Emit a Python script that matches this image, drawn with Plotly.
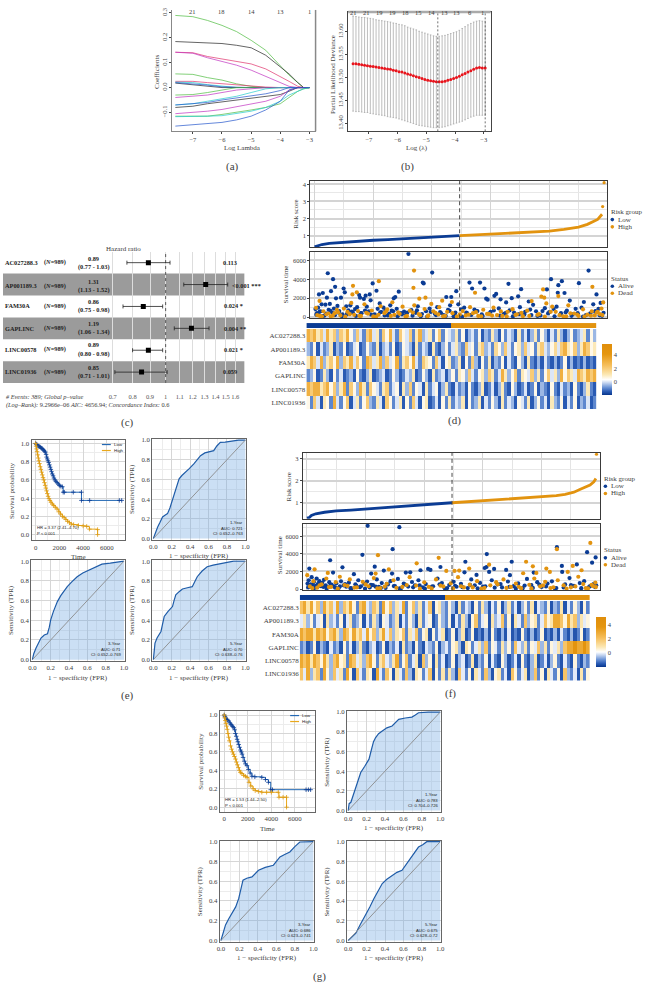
import plotly.graph_objects as go

W, H = 645, 984
SERIF = "Liberation Serif"
SANS = "Liberation Sans"
NAVY = "#0b3c94"
ORANGE = "#e2930f"
TXT = "#404040"

# (a) lasso coefficient paths
lam = [-7.6, -7, -6.5, -6, -5.5, -5, -4.5, -4, -3.7, -3.4, -3.2, -3]
coef_colors = ["#4dbb3f", "#222222", "#e0306a", "#c030c0", "#4dbb3f", "#e0306a", "#22cccc", "#222222", "#2255cc",
               "#4dbb3f", "#c030c0", "#22cccc", "#2255cc", "#222222", "#c030c0", "#4dbb3f", "#22cccc", "#2255cc"]
coef_paths = [
    [.29, .285, .27, .25, .225, .19, .15, .09, .05, .02, 0, 0],
    [.185, .183, .18, .177, .17, .16, .13, .085, .055, .02, 0, 0],
    [.142, .14, .125, .115, .105, .095, .075, .045, .025, .005, 0, 0],
    [.142, .138, .12, .105, .09, .07, .045, .02, .005, 0, 0, 0],
    [.055, .053, .04, .03, .015, .005, 0, 0, 0, 0, 0, 0],
    [.025, .025, .02, .015, .01, .005, .002, 0, 0, 0, 0, 0],
    [.022, .02, .012, .005, 0, 0, 0, 0, 0, 0, 0, 0],
    [.018, .012, .005, 0, 0, 0, 0, 0, 0, 0, 0, 0],
    [.02, .015, .01, .003, 0, 0, 0, 0, 0, 0, 0, 0],
    [-.03, -.028, -.02, -.01, 0, 0, 0, 0, 0, 0, 0, 0],
    [-.04, -.035, -.03, -.02, -.01, -.005, 0, 0, 0, 0, 0, 0],
    [-.07, -.065, -.055, -.045, -.035, -.02, -.005, 0, 0, 0, 0, 0],
    [-.07, -.065, -.06, -.05, -.042, -.035, -.025, -.012, 0, 0, 0, 0],
    [-.08, -.075, -.065, -.058, -.05, -.042, -.035, -.028, -.015, 0, 0, 0],
    [-.105, -.1, -.095, -.088, -.078, -.068, -.055, -.035, -.01, 0, 0, 0],
    [-.115, -.115, -.115, -.108, -.1, -.09, -.08, -.065, -.04, -.015, -.005, 0],
    [-.117, -.117, -.115, -.113, -.105, -.095, -.08, -.055, -.03, -.015, -.005, 0],
    [-.155, -.15, -.145, -.14, -.13, -.115, -.09, -.055, -.01, 0, 0, 0],
]
top_a_vals = [-7, -6, -5, -4, -3]
top_a_text = ["21", "18", "14", "13", "1"]

# (b) cross validation
cv_x = [-7.55, -7.45, -7.35, -7.25, -7.15, -7.05, -6.95, -6.85, -6.75, -6.65, -6.55, -6.45, -6.35, -6.25, -6.15, -6.05,
        -5.95, -5.85, -5.75, -5.65, -5.55, -5.45, -5.35, -5.25, -5.15, -5.05, -4.95, -4.85, -4.75, -4.65, -4.55, -4.45,
        -4.35, -4.25, -4.15, -4.05, -3.95, -3.85, -3.75, -3.65, -3.55, -3.45, -3.35, -3.25, -3.15, -3.05, -2.95]
cv_mean = [13.530, 13.530, 13.529, 13.528, 13.527, 13.526, 13.525, 13.524, 13.523, 13.522, 13.521, 13.520, 13.519,
           13.518, 13.516, 13.515, 13.513, 13.512, 13.510, 13.508, 13.506, 13.504, 13.502, 13.500, 13.498, 13.496,
           13.494, 13.493, 13.492, 13.491, 13.491, 13.491, 13.492, 13.494, 13.496, 13.498, 13.500, 13.503, 13.506,
           13.509, 13.512, 13.515, 13.518, 13.521, 13.522, 13.521, 13.521]
cv_up = [13.634, 13.633, 13.632, 13.631, 13.631, 13.630, 13.629, 13.628, 13.626, 13.625, 13.624, 13.623, 13.622,
         13.621, 13.619, 13.618, 13.616, 13.615, 13.613, 13.610, 13.608, 13.606, 13.604, 13.601, 13.599, 13.597,
         13.595, 13.593, 13.591, 13.590, 13.590, 13.591, 13.592, 13.594, 13.596, 13.598, 13.600, 13.603, 13.607,
         13.611, 13.615, 13.618, 13.621, 13.623, 13.624, 13.623, 13.623]
cv_lo = [13.427, 13.426, 13.426, 13.425, 13.424, 13.424, 13.422, 13.421, 13.420, 13.419, 13.418, 13.417, 13.415,
         13.414, 13.413, 13.412, 13.410, 13.408, 13.406, 13.404, 13.402, 13.400, 13.398, 13.396, 13.395, 13.394,
         13.393, 13.392, 13.391, 13.391, 13.391, 13.392, 13.393, 13.395, 13.397, 13.399, 13.401, 13.403, 13.405,
         13.408, 13.411, 13.414, 13.416, 13.418, 13.418, 13.418, 13.418]
top_b_vals = [-7.53, -7.08, -6.63, -6.17, -5.73, -5.28, -4.83, -4.38, -3.94, -3.49, -3.05]
top_b_text = ["21", "21", "19", "19", "18", "15", "14", "13", "13", "6", "1"]

# (c) forest plot
genes = ["AC027288.3", "AP001189.3", "FAM30A", "GAPLINC", "LINC00578", "LINC01936"]
hr = [0.89, 1.31, 0.86, 1.19, 0.89, 0.85]
hr_lo = [0.77, 1.13, 0.75, 1.06, 0.80, 0.71]
hr_hi = [1.03, 1.52, 0.98, 1.34, 0.98, 1.01]
hr_p = ["0.113", "&lt;0.001 ***", "0.024 *", "0.004 **", "0.021 *", "0.059"]
forest_ticks = [0.7, 0.8, 0.9, 1, 1.1, 1.2, 1.3, 1.4, 1.5, 1.6]

# (d) risk score, train set
d_low_rank = [0, 10, 25, 50, 100, 150, 200, 250, 300, 350, 400, 450, 494]
d_low_score = [.34, .40, .48, .55, .62, .68, .73, .77, .82, .87, .92, .96, 1.0]
d_high_rank = [495, 550, 600, 650, 700, 750, 800, 850, 900, 930, 950, 965, 975, 980]
d_high_score = [1.0, 1.05, 1.09, 1.13, 1.18, 1.21, 1.26, 1.36, 1.5, 1.66, 1.8, 1.95, 2.15, 2.25]
d_out_rank = [982, 987]
d_out_score = [2.7, 4.1]

d_alive_rank = [320, 45, 63, 401, 369, 372, 198, 211, 287, 70, 99, 103, 15, 28, 56, 42, 73, 90, 152, 155, 174, 188, 168,
                191, 270, 275, 449, 466, 483, 528, 537, 564, 579, 661, 704, 806, 843, 831, 792, 829, 852, 901, 934, 961,
                585, 590, 613, 619, 634, 653, 672, 694, 730, 745, 870, 918, 950, 975,
                3, 8, 12, 20, 24, 33, 37, 48, 52, 60, 66, 78, 84, 95, 108, 115, 122, 130, 138, 145, 160, 178, 185, 205,
                215, 222, 228, 235, 242, 250, 258, 263, 280, 295, 305, 312, 330, 345, 352, 362, 380, 392, 410, 418, 428,
                440, 455, 462, 474, 480, 490, 500, 510, 520, 545, 555, 570, 600, 628, 645, 665, 680, 700, 715, 735, 755,
                770, 785, 800, 815, 825, 840, 860, 880, 890, 910, 925, 940, 958, 968, 980,
                6, 17, 27, 40, 54, 69, 82, 93, 110, 127, 141, 158, 172, 193, 208, 224, 239, 254, 268, 283, 298, 316, 334,
                349, 366, 384, 396, 414, 431, 447, 460, 478, 503, 517, 534, 552, 573, 594, 611, 632, 652, 676, 697, 718,
                739, 760, 777, 796, 818, 838, 856, 876, 897, 915, 938, 956, 972, 985]
d_alive_time = [6700, 4640, 4010, 4710, 3660, 3560, 3560, 2790, 2690, 3200, 3030, 2620, 2400, 2550, 2750, 2060, 1990, 2060,
                2340, 2060, 2270, 2400, 1920, 1780, 1990, 2130, 2130, 2130, 2750, 3660, 3030, 3660, 3030, 3520, 2960, 4010,
                3800, 3380, 2930, 2580, 2550, 3590, 4920, 2400,
                1950, 1850, 2250, 2450, 1880, 1550, 2000, 2200, 1650, 1300, 1750, 1600, 1350, 1500,
                850, 420, 1000, 620, 1350, 150, 1320, 780, 1400, 480, 900, 1180, 640, 300, 1150, 720, 1250, 520, 850, 1050,
                420, 1100, 620, 280, 880, 1450, 540, 1000, 720, 180, 1250, 680, 880, 420, 580, 240, 750, 450, 1150, 100,
                620, 900, 350, 1050, 520, 220, 780, 1250, 90, 480, 1350, 820, 1000, 420, 800, 640, 300, 560, 920, 350, 720,
                480, 1050, 280, 800, 620, 180, 950, 520, 860, 1100, 420, 680, 300, 880, 1000, 220, 400, 640, 880, 140,
                240, 560, 110, 380, 650, 200, 460, 90, 310, 590, 130, 420, 700, 260, 60, 510, 170, 380, 620, 90, 290, 480,
                150, 720, 330, 60, 540, 210, 430, 120, 660, 340, 50, 480, 230, 600, 110, 380, 700, 160, 440, 70, 310, 560,
                210, 120, 640, 390, 80, 270, 510, 140, 420, 60, 300, 580, 190, 460]
d_dead_rank = [219, 131, 339, 337, 129, 144, 947, 779, 773, 783, 831, 547, 17, 357, 378, 435,
               5, 18, 30, 40, 55, 68, 76, 88, 100, 112, 125, 135, 148, 158, 170, 182, 195, 210, 225, 238, 248, 265, 272,
               285, 300, 315, 325, 340, 355, 375, 388, 398, 412, 425, 438, 452, 468, 495, 505, 515, 530, 540, 558, 575,
               595, 610, 622, 640, 658, 675, 690, 710, 725, 740, 760, 790, 810, 822, 848, 865, 885, 900, 915, 930, 945,
               955, 965, 972, 978, 984,
               9, 25, 47, 62, 80, 105, 120, 153, 176, 200, 218, 244, 260, 290, 310, 335, 360, 385, 405, 422, 445, 470, 485,
               525, 550, 568, 588, 605, 635, 655, 685, 705, 732, 765, 785, 805, 835, 858, 872, 895, 920, 942, 962, 981]
d_dead_time = [3800, 3310, 4920, 3100, 2400, 2620, 3210, 2930, 2160, 2060, 2230, 2580, 1710, 1950, 2060, 1740,
               980, 120, 620, 300, 80, 420, 760, 180, 900, 560, 1500, 240, 640, 120, 1350, 360, 700, 60, 1150, 420, 820,
               1560, 240, 500, 1100, 130, 680, 1250, 320, 860, 180, 1400, 450, 1050, 90, 560, 1600, 280, 640, 180, 1050,
               420, 120, 780, 320, 1000, 220, 120, 560, 840, 300, 100, 680, 1700, 240, 1450, 1100, 560, 80, 1250, 380, 130,
               820, 260, 620, 180, 560, 320, 900, 1550,
               210, 90, 380, 150, 520, 60, 310, 140, 450, 70, 250, 600, 120, 350, 60, 480, 200, 90, 620, 280, 140, 420, 60,
               260, 520, 90, 340, 160, 600, 70, 230, 440, 130, 310, 60, 560, 200, 90, 400, 270, 60, 150, 480, 220]

hm_d = [
    [3, 2, 3, 1, 2, 0, 3, 1, 2, -.5, 2, 1, 3, .5, -.5, 2, 0, -1, 2, 3, 0, 1, -1, 2, .5, 3, 0, -1, 2, .5, 0, 2, -1, 1, 3, -.5, 0, 1, -1, .5, 2, -1, .5, 0,
     -.5, 1, -1, .5, -1.5, -.5, 0, -1, .5, -1.5, -.5, -1, 1, -.5, -1.5, .5, -1, 0, -.5, -1.5, 1, -1, 0, -1.5, -.5, 1, -1, .5, -.5, -1.5, 0, -1, 1, -.5, -1.5, -.5, .5, -1, -.5, 0, 1, -1, .5, -.5],
    [-.5, -1, .5, -1.5, 0, -1, -.5, 1, -1.5, -.5, -1, .5, -1.5, -1, 0, .5, -1.5, -1, .5, -.5, -1, 1, -1.5, -.5, 0, -1, .5, -1.5, -1, .5, 0, -.5, -1.5, 1, -1, 0, -.5, -1.5, 1, -1, -1.5, -.5, .5, -1,
     0, 1, -.5, -1, 2, 0, .5, -1, 1, 2, -.5, 0, -1, 1.5, .5, -.5, 2, 0, -1, .5, 1, -.5, 2, 0, .5, -1, 1, 2, 0, -.5, .5, 1.5, 0, 2, 3, 1, .5, 2, -.5, 1, 3, 2, .5, 1],
    [1, 3, 2, 0, 3, -.5, 1, 2, .5, 3, -.5, 2, 1, 3, 0, 2, .5, -1, 3, 2, 0, 1, 3, -.5, 2, 0, .5, 3, -1, 1, 2, .5, 3, 0, -1, 2, 1, .5, -1, 2, 0, -1.5, .5, 1,
     -1, -.5, 1, -1.5, .5, -1, 2, -.5, -1.5, .5, -1, 1, -1.5, -.5, -1, .5, -1.5, 0, -1, -1.5, .5, -.5, -1.5, 1, -1, -1.5, -.5, -1.5, 0, -1, -1.5, -.5, -1.5, -1, .5, -1.5, -.5, -1.5, -1, -1.5, -.5, -1.5, -1, -1.5],
    [-1, -.5, .5, -1.5, -1, 1, -.5, -1.5, .5, -1, 0, -1.5, -1, -.5, -1.5, .5, -1, -1.5, -.5, 1, -1.5, -1, -.5, 0, -1.5, -1, .5, -.5, -1.5, -1, 0, -.5, 1, -1.5, -1, .5, -.5, -1.5, 1, -1, -.5, 0, -1.5, -.5,
     .5, -1, 1, .5, -.5, 2, 0, -1, .5, 1, -.5, 2, 1, -1, 0, 3, 1, -.5, .5, 2, -1, 1, .5, 0, 2, -.5, 1, -1, .5, 2, 0, 1, -.5, 3, .5, 2, 1, 0, 3, 2, 1, 3, 2, 3],
    [3, 2, 3, 3, 1, 2, 3, .5, 2, -.5, 1, 3, -1, 2, .5, -.5, 3, 1, -1, 2, .5, 0, -1, 1, 2, -1, 0, .5, -1.5, 1, -.5, 2, -1, .5, 0, -1.5, 1, -1, 0, .5, -1.5, -.5, 1, -1,
     -1.5, 0, -1, -.5, -1.5, .5, -1, -1.5, -.5, 1, -1.5, -1, 0, -1.5, -.5, 1, -1, -1.5, .5, -.5, -1.5, -1, 0, -1.5, -1, .5, -1.5, -.5, -1, -1.5, .5, -1, -1.5, 0, -1, -.5, -1.5, .5, -1, -1.5, -.5, 1, -1, -1.5],
    [.5, -1, 2, 0, -1.5, 1, .5, -1, 3, 0, -1, .5, 2, -1.5, 0, 1, -1, .5, 2, -.5, -1, 1, 0, -1.5, 2, .5, -1, 0, 1, -1.5, .5, -1, 2, 0, -1.5, .5, 1, -1.5, -1, 0, -1.5, .5, -1, 1,
     -1, 0, -.5, 1, -1.5, .5, -1, -.5, 1, -1.5, 0, -1, .5, -.5, -1.5, 1, -1, 0, -.5, -1.5, .5, 0, -1, 1, -1.5, -.5, .5, -1, 0, -1.5, 1, -.5, -1, .5, -1.5, 0, -1, .5, -1.5, -.5, -1, 0, -1.5, -1],
]

# (e) survival and ROC, train set
e_low_t = [0, 60, 120, 180, 250, 320, 400, 470, 540, 610, 680, 750, 820, 880, 930, 980, 1040, 1100, 1160, 1220, 1280, 1340,
           1400, 1470, 1540, 1620, 1700, 1800, 1900, 2000, 2120, 2250, 2320, 2420, 3170, 3860, 3860, 4550, 7050, 7250]
e_low_s = [1, .99, .985, .975, .97, .965, .96, .95, .945, .935, .925, .915, .905, .88, .85, .83, .81, .79, .765, .74, .715,
           .69, .665, .645, .62, .6, .585, .57, .555, .54, .53, .525, .465, .465, .465, .465, .375, .375, .375, .375]
e_high_t = [0, 40, 80, 120, 170, 220, 270, 320, 380, 440, 500, 560, 620, 680, 740, 800, 860, 920, 980, 1050, 1120, 1200, 1290,
            1400, 1520, 1650, 1800, 1950, 2100, 2250, 2400, 2550, 2700, 2850, 3000, 3200, 3600, 4000, 4300, 4530, 5220, 5220]
e_high_s = [1, .97, .94, .91, .875, .84, .81, .78, .745, .715, .685, .655, .625, .6, .57, .54, .51, .48, .45, .42, .395, .375,
            .355, .335, .32, .3, .28, .25, .225, .2, .185, .165, .145, .13, .115, .11, .1, .095, .09, .06, .055, 0]
e1_fpr = [0, .02, .047, .07, .1, .13, .154, .18, .2, .226, .25, .28, .31, .35, .39, .44, .48, .513, .56, .62, .656, .69, .728, .78, .836, .926, 1]
e1_tpr = [0, .06, .118, .16, .219, .24, .253, .31, .37, .438, .53, .606, .64, .673, .71, .758, .8, .842, .87, .885, .892, .94, .976, .98, .987, 1, 1]
e3_fpr = [0, .015, .04, .07, .094, .13, .165, .185, .2, .23, .273, .31, .345, .381, .43, .489, .55, .615, .69, .759, .85, .93, 1]
e3_tpr = [0, .06, .118, .17, .219, .25, .263, .33, .404, .49, .589, .65, .7, .741, .79, .842, .88, .909, .945, .97, .98, .99, 1]
e5_fpr = [0, .018, .04, .083, .1, .118, .16, .208, .225, .244, .28, .316, .37, .423, .45, .477, .53, .585, .65, .728, .8, .872, 1]
e5_tpr = [0, .168, .22, .286, .36, .438, .49, .539, .6, .657, .69, .717, .73, .741, .79, .842, .9, .943, .96, .976, .99, 1, 1]

# (f) risk score, test set
f_low_rank = [0, 8, 15, 30, 60, 100, 150, 200, 250, 300, 350, 400, 450, 494]
f_low_score = [.3, .33, .42, .5, .57, .63, .67, .72, .76, .82, .87, .91, .96, 1.0]
f_high_rank = [495, 550, 600, 650, 700, 750, 800, 850, 880, 910, 930, 950, 965, 978, 985]
f_high_score = [1.0, 1.05, 1.08, 1.12, 1.16, 1.2, 1.26, 1.32, 1.38, 1.48, 1.6, 1.72, 1.8, 1.95, 2.1]
f_out_rank = [987]
f_out_score = [3.2]

f_alive_rank = [207, 315, 292, 189, 79, 8, 89, 121, 231, 262, 613, 540, 698, 852, 955, 972, 984, 920, 869, 870, 612, 606,
                638, 679, 692, 621, 455, 413, 421, 387, 352, 337, 290, 160, 219, 537, 578, 773,
                2, 6, 11, 16, 20, 24, 28, 33, 37, 42, 47, 52, 58, 64, 70, 76, 84, 92, 100, 108, 116, 125, 134, 143, 152, 165,
                175, 184, 195, 205, 214, 225, 238, 245, 255, 268, 276, 285, 300, 310, 320, 330, 345, 358, 368, 380, 395, 405,
                430, 445, 460, 470, 485, 500, 510, 525, 548, 560, 572, 590, 600, 630, 650, 665, 685, 705, 720, 735, 750, 765,
                785, 800, 820, 835, 850, 880, 895, 910, 930, 945, 960, 978, 986,
                4, 13, 22, 31, 44, 56, 67, 80, 96, 112, 130, 148, 168, 180, 198, 218, 234, 252, 272, 296, 316, 335, 362, 384,
                402, 426, 452, 478, 505, 530, 556, 582, 608, 640, 660, 690, 712, 742, 770, 792, 815, 845, 875, 900, 935, 965, 982]
f_alive_time = [7200, 7050, 4540, 3900, 3280, 2330, 1880, 2480, 2550, 2100, 3980, 3110, 3110, 4770, 4200, 3000, 3600, 2810,
                2630, 1950, 2510, 2400, 2290, 2180, 1580, 1950, 2510, 2290, 2180, 2140, 1910, 1880, 1760, 1690, 1760, 1910,
                1610, 1880,
                620, 1000, 300, 1350, 480, 820, 150, 1200, 560, 900, 320, 700, 1050, 420, 200, 780, 500, 300, 650, 120, 880,
                420, 260, 720, 80, 540, 1000, 320, 600, 850, 180, 440, 1100, 260, 680, 130, 520, 900, 340, 1150, 60, 620, 280,
                800, 420, 1000, 200, 560, 320, 1200, 680, 90, 460, 820, 260, 600, 120, 1100, 420, 700, 280, 1000, 540, 180,
                860, 340, 640, 100, 1150, 460, 780, 240, 620, 880, 120, 520, 1250, 360, 680, 900, 200, 580, 420,
                180, 520, 90, 370, 610, 240, 70, 430, 160, 300, 560, 110, 390, 210, 60, 480, 270, 130, 600, 340, 80, 510, 190,
                420, 60, 280, 540, 120, 360, 210, 470, 90, 310, 150, 560, 240, 70, 400, 130, 500, 290, 60, 180, 440, 100, 330, 220]
f_dead_rank = [242, 852, 966, 449, 374, 747, 770, 816, 828, 906, 936, 889, 621, 553, 475, 503, 519, 71, 26, 1, 279, 234, 737, 782,
               10, 22, 35, 50, 66, 82, 98, 112, 128, 146, 170, 190, 210, 228, 250, 272, 295, 325, 350, 372, 400, 425, 440, 465,
               490, 515, 535, 555, 580, 605, 625, 645, 670, 695, 712, 730, 758, 775, 795, 812, 830, 855, 875, 900, 925, 942, 958, 975, 983,
               18, 43, 75, 105, 138, 162, 200, 240, 265, 305, 340, 385, 415, 455, 498, 525, 565, 595, 650, 680, 722, 765, 805, 840, 885, 915, 950, 970, 985]
f_dead_time = [3860, 4540, 5250, 3560, 2930, 3110, 2590, 2330, 1950, 2630, 2140, 1950, 2780, 2330, 2060, 2060, 2100, 1840, 2250,
               1580, 2250, 1760, 1800, 1840,
               300, 900, 150, 520, 1200, 240, 780, 1400, 450, 1100, 180, 820, 320, 1250, 120, 600, 1000, 240, 1350, 400, 760, 80,
               1100, 300, 640, 1350, 180, 500, 900, 130, 420, 780, 1100, 240, 620, 100, 480, 1200, 300, 820, 120, 1000, 420, 200,
               1400, 560, 80, 340, 740,
               110, 430, 220, 60, 360, 170, 520, 80, 280, 140, 460, 60, 240, 380, 90, 320, 180, 60, 540, 130, 260, 70, 410, 190, 60, 300, 120, 480, 220]

hm_f = [
    [2, 3, 1, 3, .5, 2, -.5, 3, 1, 2, 0, 3, -.5, 2, 1, 3, .5, -1, 2, 3, 0, -.5, 2, 1, -1, 3, .5, 2, -.5, 1, 0, 3, -1, .5, 2, -.5, 1, -1, 0, 2, -1.5, .5, 1, -.5,
     -1, .5, -.5, -1.5, 1, -1, 0, -.5, -1.5, .5, -1, 1, -.5, -1.5, 0, -1, .5, -1.5, -.5, 1, -1, 0, -1.5, -.5, .5, -1, 1, -1.5, 0, -.5, -1, .5, -1.5, -.5, -1, 1, -1.5, 0, -1, .5, -.5, -1.5, .5, -1],
    [0, 1, -.5, .5, -1, 0, .5, -1.5, 1, -.5, 0, -1, .5, -1.5, 0, 1, -1, -.5, .5, -1.5, 0, -1, 1, -.5, -1.5, .5, 0, -1, -.5, 1, -1.5, 0, -1, .5, -.5, -1.5, 1, -1, 0, .5, -1.5, -1, .5, -.5,
     -1, .5, -1.5, 0, -1, 1, -.5, -1.5, .5, 2, -1, 0, .5, -1.5, 1, -.5, 0, 2, -1, .5, -1.5, 1, 0, -1, 2, -.5, .5, 1, -1, 0, 2, .5, 1, 3, 3, 2, .5, 3, 1, 2, -.5, 1, 0, .5],
    [3, 2, 3, 3, 1, 3, 2, 3, .5, 2, 3, 1, -.5, 3, 2, .5, 3, 1, 2, 0, 3, .5, 2, -.5, 1, 3, 0, 2, -.5, 1, .5, 2, -1, 1, 0, 2, -1, .5, 1, -1.5, .5, -1, 0, 1,
     -1.5, -1, .5, -1.5, -.5, 1, -1.5, -1, .5, -1.5, -1, -1.5, -.5, -1.5, .5, -1, -1.5, -.5, -1.5, 0, -1.5, -1, -1.5, .5, -1, -1.5, -.5, -1.5, -1, .5, -1.5, -1, -1.5, -.5, -1.5, 0, -1, -1.5, -.5, -1.5, -1, .5, -1.5, -1],
    [-1, -.5, -1.5, -1, .5, -1.5, -.5, -1, -1.5, 0, -1, -.5, -1.5, .5, -1, 0, -1.5, -.5, 1, -1, -1.5, -.5, 0, -1.5, -1, .5, -1.5, -.5, -1, 0, -1.5, 1, -1, -.5, -1.5, .5, -1, -1.5, 0, -.5, -1, .5, -1.5, -.5,
     0, -1, .5, 1, -.5, -1.5, 1, .5, -1, 0, 1, -.5, 2, -1, .5, 0, -1, 1, -.5, .5, -1, 2, 0, -.5, 1, -1, .5, 0, 2, -.5, 1, -1, .5, 0, 1, -.5, 2, 3, 3, 4, 3, 3, 4, 3],
    [3, 2, 3, 1, 3, 2, .5, 3, 1, -.5, 2, 3, .5, 1, -1, 3, 2, 0, 1, -.5, 2, 3, .5, -1, 1, 2, 0, -.5, 1, 3, -1, .5, 2, -1, 0, 1, -1.5, 2, -.5, .5, -1.5, 1, -1, 0,
     -1.5, -1, .5, -1.5, -.5, 0, -1.5, -1, 1, -1.5, -.5, -1, .5, -1.5, 0, -1, -1.5, .5, -.5, -1.5, -1, 0, -1.5, .5, -1, -1.5, -.5, 1, -1.5, -1, 0, -1.5, -.5, .5, -1, -1.5, 0, -1, -1.5, .5, -1, -1.5, -.5, -1],
    [2, 0, 3, -.5, 1, 2, -1, 3, .5, -.5, 2, 0, 1, -1, 3, .5, -1.5, 2, 0, -1, 1, .5, -1.5, 3, 0, -1, 2, .5, -1.5, 1, 0, -1, 2, -.5, -1.5, 1, .5, -1, 0, 2, -1.5, .5, -1, 1,
     -1, 1, -.5, -1.5, 2, 0, -1, .5, -1.5, 1, 0, -1, 2, -.5, -1.5, .5, 1, -1, 0, -1.5, 2, .5, -1, 0, 1, -1.5, -.5, 2, -1, .5, -1.5, 1, 0, -1, .5, -1.5, 2, -.5, -1, 0, -1.5, 1, -1, .5],
]

# (g) survival and ROC, test set
g_low_t = [0, 60, 120, 200, 280, 392, 480, 560, 640, 720, 812, 880, 950, 1020, 1092, 1160, 1230, 1300, 1380, 1450, 1513, 1600,
           1700, 1800, 1933, 2050, 2200, 2353, 2600, 3193, 3500, 3754, 3950, 4100, 6950, 7150, 7340]
g_low_s = [1, .985, .97, .955, .945, .935, .915, .9, .89, .875, .863, .84, .8, .77, .737, .71, .68, .65, .62, .6, .576, .54,
           .5, .47, .45, .41, .37, .335, .33, .324, .3, .27, .19, .19, .19, .19, .19]
g_high_t = [0, 40, 90, 140, 200, 252, 310, 370, 430, 532, 620, 700, 780, 860, 952, 1030, 1110, 1200, 1290, 1373, 1500, 1650, 1800,
            1933, 2100, 2250, 2450, 2633, 2900, 3193, 3600, 4000, 4594, 4650, 5000, 5294, 5294]
g_high_s = [1, .97, .94, .91, .88, .845, .8, .76, .72, .665, .63, .6, .575, .55, .522, .49, .46, .43, .4, .378, .365, .345, .335,
            .324, .27, .23, .2, .18, .17, .162, .162, .162, .162, .108, .108, .108, 0]
g1_fpr = [0, .01, .029, .055, .083, .11, .136, .18, .226, .25, .275, .298, .33, .37, .42, .477, .51, .549, .62, .692, .73, .764, .87, 1]
g1_tpr = [0, .07, .084, .16, .236, .33, .387, .45, .522, .61, .7, .741, .78, .808, .84, .859, .89, .926, .94, .949, .97, .993, 1, 1]
g3_fpr = [0, .02, .05, .085, .121, .16, .193, .215, .239, .28, .336, .407, .48, .568, .6, .639, .69, .746, .8, .854, 1]
g3_tpr = [0, .06, .158, .22, .275, .34, .426, .52, .611, .63, .644, .711, .74, .762, .8, .846, .87, .896, .95, .997, 1]
g5_fpr = [0, .03, .083, .13, .19, .235, .28, .325, .37, .42, .477, .53, .585, .63, .674, .72, .764, .81, .854, 1]
g5_tpr = [0, .03, .074, .16, .258, .34, .426, .5, .577, .62, .661, .69, .711, .77, .829, .89, .946, .97, 1, 1]

fig = go.Figure()
notes = []
shapes = []


def xdom(l, r):
    return [l / W, r / W]


def ydom(t, b):
    return [1 - b / H, 1 - t / H]


def label(x, y, text, size=7, anchor="center", angle=0, color=TXT, family=SERIF):
    notes.append(dict(x=x / W, y=1 - y / H, xref="paper", yref="paper", text=text, showarrow=False, xanchor=anchor,
                      yanchor="middle", textangle=angle, font=dict(size=size, color=color, family=family), borderpad=0))


def key_dot(x, y, color):
    shapes.append(dict(type="circle", xref="paper", yref="paper", x0=(x - 1.8) / W, x1=(x + 1.8) / W, y0=1 - (y + 1.8) / H,
                       y1=1 - (y - 1.8) / H, fillcolor=color, line_width=0))


def axes(n, left, right, top, bottom, xr, yr, xextra=None, yextra=None):
    sfx = "" if n == 1 else str(n)
    xa = dict(domain=xdom(left, right), range=xr, anchor="y" + sfx, zeroline=False, showgrid=False,
              tickfont=dict(size=6.5, family=SERIF, color=TXT))
    ya = dict(domain=ydom(top, bottom), range=yr, anchor="x" + sfx, zeroline=False, showgrid=False,
              tickfont=dict(size=6.5, family=SERIF, color=TXT))
    xa.update(xextra or {})
    ya.update(yextra or {})
    fig.update_layout({"xaxis" + sfx: xa, "yaxis" + sfx: ya})
    return "x" + sfx, "y" + sfx


# --- (a)
ax, ay = axes(1, 171, 316, 7, 129, [-7.71, -2.79], [-.176, .312],
              dict(tickvals=[-7, -6, -5, -4, -3], ticktext=["−7", "−6", "−5", "−4", "−3"], ticks="outside", ticklen=2,
                   showline=True, linecolor="#888", linewidth=1),
              dict(tickvals=[-.1, 0, .1, .2, .3], ticktext=["−0.1", "0.0", "0.1", "0.2", "0.3"], ticks="outside", ticklen=2,
                   tickangle=-90, showline=True, linecolor="#888", linewidth=1))
for path, col in zip(coef_paths, coef_colors):
    fig.add_trace(go.Scatter(x=lam, y=path, mode="lines", line=dict(color=col, width=.7), xaxis=ax, yaxis=ay))
shapes.append(dict(type="line", xref="x domain", yref="y domain", x0=1, x1=1, y0=0, y1=1, line=dict(color="#888", width=1.5)))
for v, t in zip(top_a_vals, top_a_text):
    notes.append(dict(x=v, xref=ax, y=1 - 3 / H, yref="paper", text=t, showarrow=False, font=dict(size=6.5, family=SERIF, color=TXT)))
label(155, 69, "Coefficients", 7, angle=-90)
label(242, 146, "Log Lambda", 7)
label(232, 164, "(a)", 11)

# --- (b)
bx, by = axes(2, 349, 493, 9, 129, [-7.72, -2.76], [13.383, 13.643],
              dict(tickvals=[-7, -6, -5, -4, -3], ticktext=["−7", "−6", "−5", "−4", "−3"], ticks="outside", ticklen=2,
                   showline=True, mirror=True, linecolor="#444", linewidth=1),
              dict(tickvals=[13.40, 13.45, 13.50, 13.55, 13.60], tickformat=".2f", ticks="outside", ticklen=2, tickangle=-90,
                   showline=True, mirror=True, linecolor="#444", linewidth=1))
err_up = [u - m for u, m in zip(cv_up, cv_mean)]
err_lo = [m - l for m, l in zip(cv_mean, cv_lo)]
fig.add_trace(go.Scatter(x=cv_x, y=cv_mean, mode="markers", marker=dict(color="#e8141c", size=3), xaxis=bx, yaxis=by,
                         error_y=dict(type="data", symmetric=False, array=err_up, arrayminus=err_lo, color="#a0a0a0",
                                      thickness=.7, width=.8)))
for lx in [-4.6, -2.95]:
    fig.add_trace(go.Scatter(x=[lx, lx], y=[13.383, 13.643], mode="lines", line=dict(color="#333", width=.7, dash="2px,2px"),
                             xaxis=bx, yaxis=by))
shapes.append(dict(type="line", xref="x2 domain", yref="y2 domain", x0=0, x1=1, y0=1, y1=1, line=dict(color="#aaa", width=2.5)))
for v, t in zip(top_b_vals, top_b_text):
    notes.append(dict(x=v, xref=bx, y=1 - 4 / H, yref="paper", text=t, showarrow=False, font=dict(size=6.5, family=SERIF, color=TXT)))
label(333, 72, "Partial Likelihood Deviance", 7, angle=-90)
label(419, 146, "Log (λ)", 7)
label(409, 164, "(b)", 11)

# --- (c)
cx, cy = axes(3, 0, 244, 250, 382, [-.4766, .2306], [5.5, -.5],
              dict(type="log", tickvals=forest_ticks, ticktext=[str(v) for v in forest_ticks], showgrid=True, tickangle=0,
                   gridcolor="#dddddd", gridwidth=1, ticks="outside", ticklen=7, tickcolor="rgba(0,0,0,0)",
                   tickfont=dict(size=6.5, family=SERIF, color="#555")),
              dict(visible=False))
for row in [1, 3, 5]:
    shapes.append(dict(type="rect", xref="x3 domain", yref="y3", x0=0, x1=1, y0=row - .5, y1=row + .5,
                       fillcolor="#9b9b9b", line_width=0, layer="below"))
fig.add_trace(go.Scatter(x=[1, 1], y=[5.5, -.5], mode="lines", line=dict(color="#333", width=.8, dash="dot"), xaxis=cx, yaxis=cy))
rows = list(range(len(genes)))
fig.add_trace(go.Scatter(x=hr, y=rows, mode="markers", marker=dict(symbol="square", color="black", size=5), xaxis=cx, yaxis=cy,
                         error_x=dict(type="data", symmetric=False, array=[h - m for h, m in zip(hr_hi, hr)],
                                      arrayminus=[m - l for m, l in zip(hr, hr_lo)], color="#222", thickness=.8, width=2)))
row_y = [260.7, 284, 304.5, 326.7, 348, 370.7]
p_left = [221, 230, 222, 222, 222, 221]
for g, h, l, u, p, y, px in zip(genes, hr, hr_lo, hr_hi, hr_p, row_y, p_left):
    label(1.5, y, "<b>" + g + "</b>", 6.3, "left", color="#222")
    label(53, y, "<b>(<i>N</i>=989)</b>", 6.3, color="#222")
    label(91, y - 4.3, "<b>%.2f</b>" % h, 6.3, color="#222")
    label(91, y + 4.3, "<b>(%.2f - %.2f)</b>" % (l, u), 6.3, color="#222")
    label(px, y, "<b>" + p + "</b>", 6.3, "left", color="#222")
label(122, 247, "Hazard ratio", 7)
label(2, 396, "<i># Events: 389; Global p–value</i>", 6.3, "left")
label(2, 404, "<i>(Log–Rank):</i> 9.2966e–06 <i>AIC:</i> 4656.94; <i>Concordance Index:</i> 0.6", 6.3, "left")
label(126, 422, "(c)", 11)


def grid_x():
    return dict(showgrid=True, gridcolor="#d4d4d4", gridwidth=1.4, tick0=0, dtick=200, showticklabels=False, showline=True,
                mirror=True, linecolor="#3a3a3a", linewidth=1.2,
                minor=dict(showgrid=True, dtick=100, tick0=0, gridcolor="#e4e4e4", gridwidth=1))


def grid_y(vals, text, minor):
    return dict(showgrid=True, gridcolor="#d4d4d4", gridwidth=1.6, tickvals=vals, ticktext=text, ticks="outside", ticklen=2,
                showline=True, mirror=True, linecolor="#3a3a3a", linewidth=1.2,
                minor=dict(showgrid=True, tickvals=minor, gridcolor="#e8e8e8", gridwidth=1))


STOPS = [[0, "#07358c"], [.07, "#2b5cb5"], [.15, "#6c94d6"], [.24, "#c6d6f0"], [.3, "#ffffff"], [.4, "#fce8b4"],
         [.58, "#f6bf5c"], [.8, "#e5960f"], [1, "#e08e0b"]]


def risk_panel(n, frame, x0_px, top1, bot1, top2, bot2, y1r, y2r, y1t, low, high, out, alive, dead):
    left, right = frame
    px = (608.3 - 315) / 989
    xr = [(left - x0_px) / px, (right - x0_px) / px]
    x1, y1 = axes(n, left, right, top1, bot1, xr, y1r, grid_x(), grid_y(y1t, [str(v) for v in y1t], [v + .5 for v in y1t]))
    x2, y2 = axes(n + 1, left, right, top2, bot2, xr, y2r, grid_x(),
                  grid_y([0, 2000, 4000, 6000], ["0", "2000", "4000", "6000"], [1000, 3000, 5000, 7000]))
    fig.add_trace(go.Scatter(x=low[0], y=low[1], mode="lines", line=dict(color=NAVY, width=2.8), xaxis=x1, yaxis=y1))
    fig.add_trace(go.Scatter(x=high[0], y=high[1], mode="lines", line=dict(color=ORANGE, width=2.8), xaxis=x1, yaxis=y1))
    fig.add_trace(go.Scatter(x=out[0], y=out[1], mode="markers", marker=dict(color=ORANGE, size=3.2), xaxis=x1, yaxis=y1))
    fig.add_trace(go.Scatter(x=alive[0], y=alive[1], mode="markers", marker=dict(color=NAVY, size=4.2), xaxis=x2, yaxis=y2))
    fig.add_trace(go.Scatter(x=dead[0], y=dead[1], mode="markers", marker=dict(color=ORANGE, size=4.2), xaxis=x2, yaxis=y2))
    for xa, ya, yrr in [(x1, y1, y1r), (x2, y2, y2r)]:
        fig.add_trace(go.Scatter(x=[494.5, 494.5], y=yrr, mode="lines", line=dict(color="#333", width=.9, dash="4px,3px"), xaxis=xa, yaxis=ya))


def heat_panel(n, left, right, bar_top, bar_bot, heat_top, heat_bot, z, zmin, zmax, cb_left, cb_top, cb_len):
    x1, y1 = axes(n, left, right, bar_top, bar_bot, [-.5, 1.5], [-.5, .5], dict(visible=False), dict(visible=False))
    fig.add_trace(go.Heatmap(z=[[0, 1]], colorscale=[[0, NAVY], [1, ORANGE]], showscale=False, xaxis=x1, yaxis=y1))
    x2, y2 = axes(n + 1, left, right, heat_top, heat_bot, [-.5, len(z[0]) - .5], [5.5, -.5], dict(visible=False),
                  dict(tickvals=list(range(6)), ticktext=genes, ticks="", tickfont=dict(size=7, family=SERIF, color=TXT)))
    fig.add_trace(go.Heatmap(z=z, zmin=zmin, zmax=zmax, colorscale=STOPS, xaxis=x2, yaxis=y2,
                             colorbar=dict(x=cb_left / W, xanchor="left", y=1 - cb_top / H, yanchor="top", lenmode="pixels",
                                           len=cb_len, thickness=10, xpad=0, ypad=0, outlinewidth=0, tickvals=[0, 2, 4],
                                           ticks="", tickfont=dict(size=6.5, family=SERIF, color=TXT))))


def status_keys(x, y_group, y_status):
    label(x, y_group, "Risk group", 7, "left")
    key_dot(x + 2, y_group + 7.7, NAVY)
    label(x + 7, y_group + 7.7, "Low", 7, "left")
    key_dot(x + 2, y_group + 15, ORANGE)
    label(x + 7, y_group + 15, "High", 7, "left")
    label(x, y_status, "Status", 7, "left")
    key_dot(x + 2, y_status + 7.7, NAVY)
    label(x + 7, y_status + 7.7, "Alive", 7, "left")
    key_dot(x + 2, y_status + 14.7, ORANGE)
    label(x + 7, y_status + 14.7, "Dead", 7, "left")


# --- (d)
risk_panel(4, (310.7, 611), 315, 179, 245.5, 250.5, 317, [.32, 4.19], [-136, 6867], [1, 2, 3, 4],
           (d_low_rank, d_low_score), (d_high_rank, d_high_score), (d_out_rank, d_out_score),
           (d_alive_rank, d_alive_time), (d_dead_rank, d_dead_time))
heat_panel(6, 306.7, 600, 321.7, 326.7, 327.7, 408.3, hm_d, -2, 5.6, 606, 343, 51)
label(296, 212, "Risk score", 7, angle=-90)
label(286, 283, "Survival time", 7, angle=-90)
status_keys(614, 210, 277)
label(456, 420, "(d)", 11)

# --- (f)
risk_panel(8, (303.3, 604), 307.3, 452, 518.5, 523.5, 590, [.27, 3.27], [-110, 7430], [1, 2, 3],
           (f_low_rank, f_low_score), (f_high_rank, f_high_score), (f_out_rank, f_out_score),
           (f_alive_rank, f_alive_time), (f_dead_rank, f_dead_time))
heat_panel(10, 300, 593.3, 595, 600, 601, 681, hm_f, -1.9, 5.1, 599.3, 616.7, 50)
label(289, 486, "Risk score", 7, angle=-90)
label(280, 555, "Survival time", 7, angle=-90)
status_keys(607, 478, 550)
label(452, 694, "(f)", 11)


def frame_axis(**kw):
    d = dict(showgrid=True, gridcolor="#d6d6d6", gridwidth=1.2, showline=True, mirror=True, linecolor="#666", linewidth=1.2,
             ticks="", tickfont=dict(size=6.8, family=SERIF, color=TXT))
    d.update(kw)
    return d


RATE_T = [0, .2, .4, .6, .8, 1]
RATE_M = [.1, .3, .5, .7, .9]


def roc_panel(n, left, right, top, bottom, fpr, tpr, lines):
    # pixel box is the 0..1 square plus a small pad
    w, h = right - left, bottom - top
    pad = 1.0
    xa = frame_axis(tickvals=RATE_T, tickformat=".1f", minor=dict(showgrid=True, tickvals=RATE_M, gridcolor="#ececec", gridwidth=.8))
    ya = frame_axis(tickvals=RATE_T, tickformat=".1f", minor=dict(showgrid=True, tickvals=RATE_M, gridcolor="#ececec", gridwidth=.8))
    x, y = axes(n, left, right, top, bottom, [-pad / (w - 2 * pad), 1 + pad / (w - 2 * pad)],
                [-pad / (h - 2 * pad), 1 + pad / (h - 2 * pad)], xa, ya)
    fig.add_trace(go.Scatter(x=fpr, y=tpr, mode="lines", line=dict(color="#1f5ca8", width=1.2), fill="tozeroy",
                             fillcolor="rgba(110,165,225,.36)", xaxis=x, yaxis=y))
    fig.add_trace(go.Scatter(x=[0, 1], y=[0, 1], mode="lines", line=dict(color="#8a8a8a", width=.9), xaxis=x, yaxis=y))
    for i, t in enumerate(lines):
        label(right - 2.5, bottom - 17 + i * 5.6, t, 4.2, "right", color="#222", family=SANS)
    label((left + right) / 2, bottom + 17, "1 − specificity (FPR)", 7)
    label(left - 20, (top + bottom) / 2, "Sensitivity (TPR)", 7, angle=-90)


def km_panel(n, left, right, top, bottom, x_rng, y_rng, low, high, hr_txt):
    xa = frame_axis(tickvals=[0, 2000, 4000, 6000], minor=dict(showgrid=True, tickvals=[1000, 3000, 5000, 7000], gridcolor="#ececec", gridwidth=.8))
    ya = frame_axis(tickvals=RATE_T, tickformat=".1f", minor=dict(showgrid=True, tickvals=RATE_M, gridcolor="#ececec", gridwidth=.8))
    x, y = axes(n, left, right, top, bottom, x_rng, y_rng, xa, ya)
    for (t, s), line_col, mark_col in [(low, "#2368b4", NAVY), (high, "#e9a81c", "#dd9a10")]:
        fig.add_trace(go.Scatter(x=t, y=s, mode="lines+markers", line=dict(color=line_col, width=1, shape="hv"),
                                 marker=dict(symbol="cross-thin", size=3.2, line=dict(color=mark_col, width=.8)), xaxis=x, yaxis=y))
    label(left + 4, bottom - 13, hr_txt, 4.2, "left", color="#222", family=SANS)
    label(left + 4, bottom - 7, "P &lt; 0.001", 4.2, "left", color="#222", family=SANS)
    label(left + 82, top + 4.5, "Low", 4.4, "left", color="#222", family=SANS)
    label(left + 82, top + 10.5, "High", 4.4, "left", color="#222", family=SANS)
    for dy, col in [(4.5, "#2368b4"), (10.5, "#e9a81c")]:
        shapes.append(dict(type="line", xref="paper", yref="paper", x0=(left + 71) / W, x1=(left + 80) / W,
                           y0=1 - (top + dy) / H, y1=1 - (top + dy) / H, line=dict(color=col, width=1.2)))
    label((left + right) / 2, bottom + 17, "Time", 7)
    label(left - 20, (top + bottom) / 2, "Survival probability", 7, angle=-90)


# --- (e)
km_panel(12, 29, 123.7, 439.3, 540, [-333, 7558], [-.062, 1.037], (e_low_t, e_low_s), (e_high_t, e_high_s), "HR = 3.37 (2.41–4.70)")
roc_panel(13, 151, 246, 438.3, 539.3, e1_fpr, e1_tpr, ["1-Year", "AUC: 0.721", "CI: 0.652–0.763"])
roc_panel(14, 28.7, 123.3, 560, 661, e3_fpr, e3_tpr, ["3-Year", "AUC: 0.71", "CI: 0.652–0.769"])
roc_panel(15, 151, 246, 560, 661, e5_fpr, e5_tpr, ["5-Year", "AUC: 0.70", "CI: 0.638–0.76"])
label(126, 696, "(e)", 11)

# --- (g)
km_panel(16, 219.3, 315, 711.7, 813.3, [-366, 7675], [-.054, 1.043], (g_low_t, g_low_s), (g_high_t, g_high_s), "HR = 1.53 (1.44–2.50)")
roc_panel(17, 348, 443, 711.7, 812.7, g1_fpr, g1_tpr, ["1-Year", "AUC: 0.783", "CI: 0.704–0.726"])
roc_panel(18, 219.3, 314.7, 842, 943.3, g3_fpr, g3_tpr, ["3-Year", "AUC: 0.686", "CI: 0.623–0.741"])
roc_panel(19, 348, 443, 842, 943.3, g5_fpr, g5_tpr, ["5-Year", "AUC: 0.675", "CI: 0.628–0.72"])
label(320, 978, "(g)", 11)

fig.update_layout(width=W, height=H, margin=dict(l=0, r=0, t=0, b=0), paper_bgcolor="white", plot_bgcolor="white",
                  showlegend=False, annotations=notes, shapes=shapes, font=dict(family=SERIF, color=TXT))

fig.write_html("out.html", config={"displayModeBar": False},
               post_script="document.body.style.margin='0';document.body.style.overflow='hidden';")
